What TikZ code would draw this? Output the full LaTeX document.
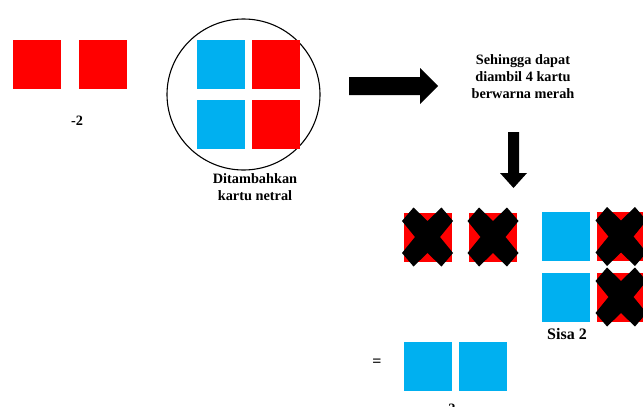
\documentclass[tikz,border=0pt]{standalone}
\usepackage{fontspec}
\setmainfont{Liberation Serif}
\definecolor{cred}{HTML}{FF0000}
\definecolor{cblue}{HTML}{00B0F0}
\tikzset{
  card/.style={minimum width=48pt,minimum height=49pt,inner sep=0pt,outer sep=0pt},
  rcard/.style={card,fill=cred},
  bcard/.style={card,fill=cblue},
  lbl/.style={font=\fontsize{14.3}{17}\selectfont\bfseries,align=center,inner sep=0pt},
  xmark/.pic={\fill[black] (-14,-29.5) -- (0,-16) -- (14,-29.5) -- (25.5,-16) -- (12.5,0) -- (25.5,16) -- (14,29.5) -- (0,16) -- (-14,29.5) -- (-25.5,16) -- (-12.5,0) -- (-25.5,-16) -- cycle;}
}
\begin{document}
\begin{tikzpicture}[x=1pt,y=-1pt]
\useasboundingbox[fill=white] (0,0) rectangle (643,407);
% left cards
\node[rcard] (r1) at (37,64.5) {};
\node[rcard] (r2) at (103,64.5) {};
\node[lbl] (m2) at (77,121) {-2};
% circle group
\draw[line width=1.1pt] (243.5,94.5) ellipse (76.5 and 75.5);
\node[bcard] (b1) at (220.5,64.5) {};
\node[rcard] (r3) at (275.5,64.5) {};
\node[bcard] (b2) at (220.5,124.5) {};
\node[rcard] (r4) at (275.5,124.5) {};
\node[lbl] (tamb) at (255,187) {Ditambahkan\\kartu netral};
% right arrow
\fill[black] (349,77) -- (420,77) -- (420,68) -- (438,86) -- (420,104) -- (420,95) -- (349,95) -- cycle;
\node[lbl] (seh) at (523,76.5) {Sehingga dapat\\diambil 4 kartu\\berwarna merah};
% down arrow
\fill[black] (508,132) -- (519,132) -- (519,173) -- (527,173) -- (513.5,188) -- (500,173) -- (508,173) -- cycle;
% crossed cards
\node[rcard] (x1) at (427.5,237) {};
\node[rcard] (x2) at (493,237) {};
\node[bcard] (x3) at (565.5,236.5) {};
\node[rcard] (x4) at (621,236.5) {};
\node[bcard] (x5) at (565.5,297) {};
\node[rcard] (x6) at (621,297) {};
\pic at (x1.center) {xmark};
\pic at (x2.center) {xmark};
\pic at (x4.center) {xmark};
\pic at (x6.center) {xmark};
\node[lbl,font=\fontsize{16}{19}\selectfont\bfseries] (sisa) at (567,334) {Sisa 2};
% result
\node[lbl,font=\fontsize{16}{19}\selectfont\bfseries] (eq) at (377,363) {=};
\node[bcard] (e1) at (427.5,366) {};
\node[bcard] (e2) at (483,366) {};
\node[lbl] (two) at (452,409) {2};
\end{tikzpicture}
\end{document}
